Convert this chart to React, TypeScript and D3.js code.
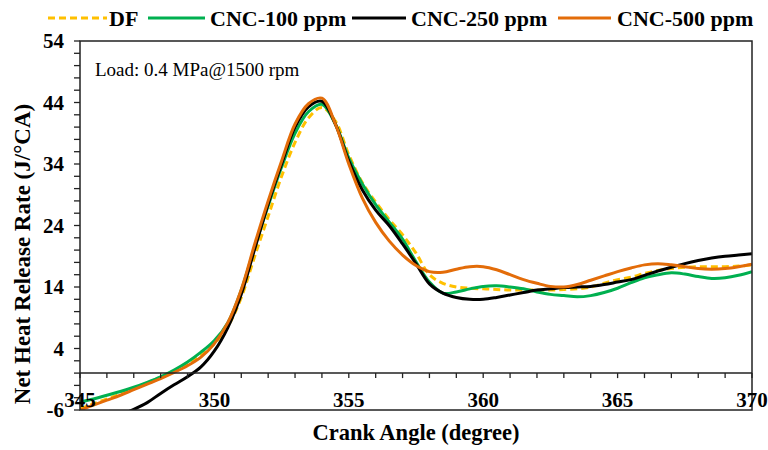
import React from "react";
import * as d3 from "d3";

const angles = [345,345.5,346,346.5,347,347.5,348,348.5,349,349.5,350,350.5,351,351.5,352,352.5,353,353.5,354,354.5,355,355.5,356,356.5,357,357.5,358,358.5,359,359.5,360,360.5,361,361.5,362,362.5,363,363.5,364,364.5,365,365.5,366,366.5,367,367.5,368,368.5,369,369.5,370];

const dfValues = [-5.8,-5.0,-4.2,-3.4,-2.5,-1.6,-0.7,0.3,1.5,2.9,4.8,7.6,12.3,19.0,25.5,32.0,37.5,41.5,43.2,41.0,35.5,31.0,27.8,25.0,22.5,19.5,16.0,14.6,14.0,13.8,13.7,13.6,13.5,13.5,13.5,13.5,13.6,13.7,14.0,14.6,15.2,15.6,16.2,16.7,17.0,17.2,17.3,17.3,17.3,17.4,17.6];

const cnc100Values = [-4.7,-4.2,-3.6,-3.0,-2.3,-1.5,-0.6,0.5,1.8,3.4,5.3,8.2,13.5,20.5,27.2,33.5,39.0,42.5,43.7,40.5,35.0,30.8,27.4,24.6,21.8,18.1,14.8,13.0,13.2,13.7,14.1,14.2,14.0,13.7,13.2,12.8,12.6,12.4,12.6,13.1,13.8,14.7,15.5,16.0,16.3,16.1,15.7,15.4,15.5,15.9,16.5];

const cnc250Values = [-8.6,-8.1,-7.5,-6.8,-5.9,-4.8,-3.3,-1.9,-0.6,1.0,3.6,7.4,12.8,20.2,27.5,34.0,40.0,43.3,44.2,40.5,34.5,29.8,26.5,24.0,21.0,17.8,14.5,13.0,12.3,12.0,12.0,12.3,12.7,13.1,13.5,13.7,13.9,14.0,14.1,14.4,14.8,15.2,15.9,16.6,17.2,17.8,18.3,18.7,19.0,19.2,19.4];

const cnc500Values = [-6.0,-5.2,-4.4,-3.6,-2.7,-1.8,-0.9,0.1,1.2,2.6,4.8,8.2,13.6,21.0,28.0,34.5,40.5,43.8,44.7,40.5,34.0,28.5,24.5,21.5,19.2,17.5,16.5,16.4,16.9,17.3,17.3,16.8,16.0,15.2,14.6,14.1,14.0,14.4,15.1,15.8,16.5,17.1,17.6,17.8,17.6,17.3,17.0,16.9,17.0,17.3,17.7];

const seriesNames = ["DF", "CNC-100 ppm", "CNC-250 ppm", "CNC-500 ppm"];
const seriesColors = ["#FFC000", "#00B050", "#000000", "#E36C09"];
const seriesDash = ["7,4", null, null, null];
const seriesData = [dfValues, cnc100Values, cnc250Values, cnc500Values];

const xTickLabels = [345, 350, 355, 360, 365, 370];
const yTickLabels = [-6, 4, 14, 24, 34, 44, 54];
const annotation = "Load: 0.4 MPa@1500 rpm";
const xTitle = "Crank Angle (degree)";
const yTitle = "Net Heat Release Rate (J/°CA)";

const W = 768, H = 450;
const L = 80, R = 752, T = 41, B = 410;
const FONT = "'Liberation Serif', 'Times New Roman', serif";

export default function App() {
  const x = d3.scaleLinear().domain([345, 370]).range([L, R]);
  const y = d3.scaleLinear().domain([-6, 54]).range([B, T]);
  const line = d3.line<number>()
    .x((_, i) => x(angles[i]))
    .y((v) => y(v))
    .curve(d3.curveCatmullRom.alpha(0.5));

  const yMinor = d3.range(-6, 54.01, 2);
  const xMinor = d3.range(345, 370.01, 1);

  const legendItems = [
    { lx: 48, tx: 109 },
    { lx: 148, tx: 210 },
    { lx: 352, tx: 411 },
    { lx: 558, tx: 617 },
  ];
  const legendLineLens = [59, 57, 54, 53];

  return (
    <svg width={W} height={H} style={{ position: "absolute", left: 0, top: 0, background: "#fff" }} fontFamily={FONT}>
      <defs>
        <clipPath id="plotclip">
          <rect x={L} y={T} width={R - L} height={B - T} />
        </clipPath>
      </defs>
      <rect x={0} y={0} width={W} height={H} fill="#fff" />

      {legendItems.map((it, i) => (
        <g key={i}>
          <line x1={it.lx} x2={it.lx + legendLineLens[i]} y1={18} y2={18}
            stroke={seriesColors[i]} strokeWidth={3}
            strokeDasharray={seriesDash[i] ?? undefined} />
          <text x={it.tx} y={26} fontSize={22} fontWeight="bold" fill="#000">{seriesNames[i]}</text>
        </g>
      ))}

      <g clipPath="url(#plotclip)">
        {seriesData.map((vals, i) => (
          <path key={i} d={line(vals) ?? ""} fill="none" stroke={seriesColors[i]}
            strokeWidth={3} strokeDasharray={seriesDash[i] ?? undefined}
            strokeLinejoin="round" strokeLinecap="butt" />
        ))}
      </g>

      <rect x={L} y={T} width={R - L} height={B - T} fill="none" stroke="#222" strokeWidth={1.5} />
      <line x1={L} x2={R} y1={y(0)} y2={y(0)} stroke="#222" strokeWidth={1.5} />
      {xMinor.map((v) => (
        <line key={"xt" + v} x1={x(v)} x2={x(v)} y1={y(0)} y2={y(0) + 5} stroke="#222" strokeWidth={1.3} />
      ))}
      {yMinor.map((v) => (
        <line key={"yt" + v} x1={L - 6} x2={L} y1={y(v)} y2={y(v)} stroke="#222" strokeWidth={1.3} />
      ))}

      {yTickLabels.map((v) => (
        <text key={"yl" + v} x={64} y={y(v)} dy="0.35em" textAnchor="end" fontSize={21} fontWeight="bold" fill="#000">{v}</text>
      ))}
      {xTickLabels.map((v) => (
        <text key={"xl" + v} x={x(v)} y={407} textAnchor="middle" fontSize={21} fontWeight="bold" fill="#000">{v}</text>
      ))}

      <text x={95} y={76} fontSize={19} fill="#000">{annotation}</text>

      <text x={416} y={440} textAnchor="middle" fontSize={22.5} fontWeight="bold" fill="#000">{xTitle}</text>
      <text transform={`translate(30,254) rotate(-90)`} textAnchor="middle" fontSize={23} fontWeight="bold" fill="#000">{yTitle}</text>
    </svg>
  );
}
